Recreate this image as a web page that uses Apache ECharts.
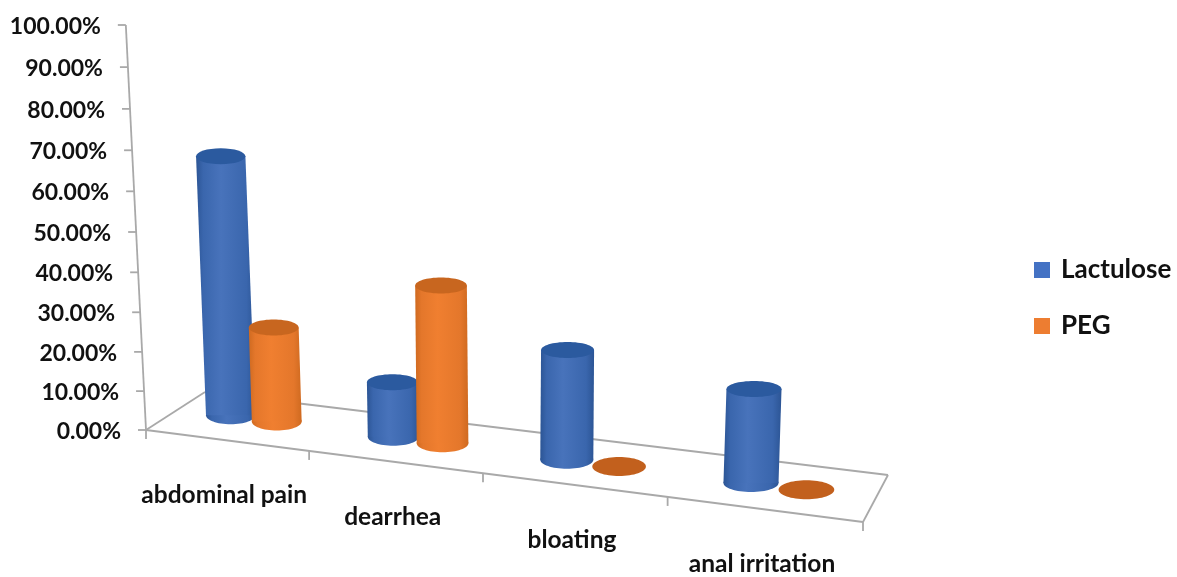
<!DOCTYPE html>
<html>
<head>
<meta charset="utf-8">
<style>html,body{margin:0;padding:0;background:#fff}#c{width:1177px;height:577px;filter:blur(0.4px)}</style>
<script src="https://cdn.jsdelivr.net/npm/echarts@6/dist/echarts.min.js"></script>
</head>
<body>
<div id="c"></div>
<script>
const categories = ['abdominal pain', 'dearrhea', 'bloating', 'anal irritation'];
const lactulose = [65, 14, 28, 24];
const peg = [24, 40, 0, 0];
const tickValues = [0, 10, 20, 30, 40, 50, 60, 70, 80, 90, 100];
const tickLabels = ['0.00%', '10.00%', '20.00%', '30.00%', '40.00%', '50.00%', '60.00%', '70.00%', '80.00%', '90.00%', '100.00%'];

const FONT = 'Lato, "Open Sans", sans-serif';
const TEXT = '#111111';
const LINE = '#a9a9a9';

// Oblique projection of (position along x, depth, value) using the axes' own scales.
function project(api, u, depth, val) {
  const p = api.coord([u, val]);
  const zero = api.coord([u, 0]);
  const n = (p[0] - 146) / 717 * 4;
  const xf = 146 + 157.75 * n + 5.375 * n * n;
  const x0 = xf + depth * (59 - 8.5 * n);
  const sink = depth * (1 - depth) * 12 * Math.max(0, 1 - n / 2.5);
  const y0 = 430 + 0.1283 * (xf - 146) - depth * (38 + 2.25 * n) - sink;
  const raw = (zero[1] - p[1]) / 4.05;
  const h = raw * 3.87 + raw * raw * 0.0018;
  return [x0 + h * 0.000135 * (x0 - 515), y0 - h, h];
}

function cylinder(colors, du) {
  return function (params, api) {
    const u = api.value(0) + 0.5 + du;
    const val = api.value(1);
    const b = project(api, u, 0.5, 0);
    const t = project(api, u, 0.5, val);
    const rx = 24.5 + 0.0055 * (b[0] - 200);
    const grad = () => new echarts.graphic.LinearGradient(0, 0, 1, 0, [
      { offset: 0, color: colors.edge },
      { offset: 0.12, color: colors.mid },
      { offset: 0.42, color: colors.light },
      { offset: 0.85, color: colors.mid },
      { offset: 1, color: colors.edge }
    ]);
    if (val === 0) {
      return { type: 'ellipse', shape: { cx: b[0], cy: b[1], rx: rx, ry: 9.5 }, style: { fill: colors.disk } };
    }
    return {
      type: 'group',
      children: [
        { type: 'ellipse', shape: { cx: b[0], cy: b[1], rx: rx, ry: 9 }, style: { fill: grad() } },
        { type: 'polygon', shape: { points: [[t[0] - rx, t[1]], [t[0] + rx, t[1]], [b[0] + rx, b[1]], [b[0] - rx, b[1]]] }, style: { fill: grad() } },
        { type: 'ellipse', shape: { cx: t[0], cy: t[1], rx: rx, ry: 8 }, style: { fill: colors.top } }
      ]
    };
  };
}

const lineStyle = { stroke: LINE, lineWidth: 1.8 };
function seg(a, b) {
  return { type: 'line', shape: { x1: a[0], y1: a[1], x2: b[0], y2: b[1] }, style: lineStyle };
}

function renderFloor(params, api) {
  const f0 = project(api, 0, 0, 0), f1 = project(api, 4, 0, 0);
  const b0 = project(api, 0, 1, 0), b1 = project(api, 4, 1, 0);
  const wallTop = project(api, 0, 0, 100);
  const children = [seg(f0, f1), seg(f0, b0), seg(b0, b1), seg(b1, f1), seg(f0, wallTop)];
  for (let u = 0; u <= 4; u++) {
    const p = project(api, u, 0, 0);
    children.push(seg(p, [p[0], p[1] + 9]));
  }
  return { type: 'group', children: children };
}

function renderTick(params, api) {
  const p = project(api, 0, 0, api.value(1));
  return {
    type: 'group',
    children: [
      seg(p, [p[0] - 8, p[1]]),
      {
        type: 'text',
        style: {
          text: tickLabels[params.dataIndex], x: p[0] - 25, y: p[1] + 1.5,
          align: 'right', verticalAlign: 'middle',
          fontFamily: FONT, fontWeight: 'bold', fontSize: 23, fill: TEXT
        }
      }
    ]
  };
}

function renderCategory(params, api) {
  const p = project(api, api.value(0) + 0.5, 0, 0);
  return {
    type: 'text',
    style: {
      text: categories[params.dataIndex], x: p[0] - 2, y: p[1] + 55,
      align: 'center', verticalAlign: 'middle',
      fontFamily: FONT, fontWeight: 'bold', fontSize: 24.5, fill: TEXT
    }
  };
}

const blue = { edge: '#2c5595', mid: '#3a66ad', light: '#4873bb', top: '#2b5a9f', disk: '#2b5a9f' };
const orange = { edge: '#cf6a20', mid: '#e4772b', light: '#f07f30', top: '#c8661f', disk: '#c2601d' };

const chart = echarts.init(document.getElementById('c'));
chart.setOption({
  animation: false,
  backgroundColor: '#fff',
  grid: { left: 146, top: 25, width: 717, height: 405 },
  xAxis: { type: 'value', min: 0, max: 4, show: false },
  yAxis: { type: 'value', min: 0, max: 100, show: false },
  legend: {
    data: ['Lactulose', 'PEG'],
    orient: 'vertical', left: 1029, top: 252,
    icon: 'rect', itemWidth: 16, itemHeight: 16, itemGap: 30,
    textStyle: { fontFamily: FONT, fontWeight: 'bold', fontSize: 26, color: TEXT, lineHeight: 24, padding: [0, 0, 0, 6] }
  },
  series: [
    { type: 'custom', name: 'floor', silent: true, renderItem: renderFloor, data: [[0, 0]], z: 1 },
    { type: 'custom', name: 'ticks', silent: true, renderItem: renderTick, data: tickValues.map(v => [0, v]), z: 2 },
    { type: 'custom', name: 'labels', silent: true, renderItem: renderCategory, data: categories.map((c, i) => [i, 0]), z: 2 },
    { type: 'custom', name: 'Lactulose', renderItem: cylinder(blue, -0.145), itemStyle: { color: '#4472c4' }, data: lactulose.map((v, i) => [i, v]), z: 3 },
    { type: 'custom', name: 'PEG', renderItem: cylinder(orange, 0.145), itemStyle: { color: '#ed7d31' }, data: peg.map((v, i) => [i, v]), z: 4 }
  ]
});
</script>
</body>
</html>
